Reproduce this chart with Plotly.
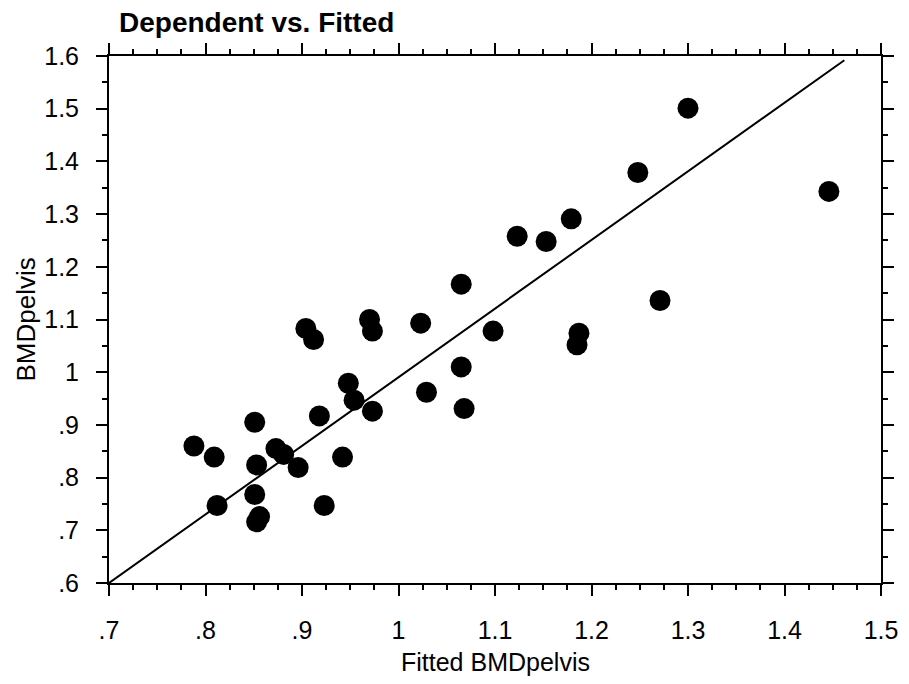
import plotly.graph_objects as go

# Fitted values (x) and observed dependent values (y)
fitted = [1.300, 1.248, 1.446, 1.179, 1.123, 1.153, 1.065, 1.023, 1.098, 1.271,
          1.187, 1.185, 1.065, 1.029, 1.068, 0.904, 0.912, 0.970, 0.973, 0.948,
          0.954, 0.973, 0.918, 0.851, 0.788, 0.809, 0.873, 0.881, 0.853, 0.896,
          0.942, 0.851, 0.812, 0.923, 0.856, 0.853]
dependent = [1.501, 1.379, 1.343, 1.291, 1.258, 1.248, 1.167, 1.093, 1.078, 1.136,
             1.074, 1.052, 1.010, 0.962, 0.931, 1.083, 1.062, 1.100, 1.078, 0.979,
             0.947, 0.926, 0.917, 0.905, 0.860, 0.839, 0.855, 0.844, 0.824, 0.819,
             0.839, 0.768, 0.747, 0.747, 0.726, 0.716]

# Reference line endpoints
line_x = [0.70, 1.462]
line_y = [0.60, 1.592]

x_tickvals = [0.7, 0.8, 0.9, 1.0, 1.1, 1.2, 1.3, 1.4, 1.5]
x_ticktext = [".7", ".8", ".9", "1", "1.1", "1.2", "1.3", "1.4", "1.5"]
y_tickvals = [0.6, 0.7, 0.8, 0.9, 1.0, 1.1, 1.2, 1.3, 1.4, 1.5, 1.6]
y_ticktext = [".6", ".7", ".8", ".9", "1", "1.1", "1.2", "1.3", "1.4", "1.5", "1.6"]

FONT = "Liberation Sans, Arial, sans-serif"

fig = go.Figure()
fig.add_trace(go.Scatter(x=line_x, y=line_y, mode="lines",
                         line=dict(color="black", width=2), hoverinfo="skip"))
fig.add_trace(go.Scatter(x=fitted, y=dependent, mode="markers",
                         marker=dict(color="black", size=21, line=dict(width=0))))

axis_common = dict(
    showline=True, linecolor="black", linewidth=2, mirror="ticks",
    ticks="outside", ticklen=11, tickwidth=2, tickcolor="black",
    showgrid=False, zeroline=False,
    tickfont=dict(family=FONT, size=25, color="black"),
)

fig.update_xaxes(range=[0.7, 1.5], tickmode="array", tickvals=x_tickvals,
                 ticktext=x_ticktext, ticklabelstandoff=13,
                 minor=dict(dtick=0.025, tick0=0.7, ticks="outside", ticklen=5,
                            tickwidth=2, tickcolor="black", showgrid=False),
                 **axis_common)
fig.update_yaxes(range=[0.6, 1.6], tickmode="array", tickvals=y_tickvals,
                 ticktext=y_ticktext, ticklabelstandoff=12,
                 minor=dict(dtick=0.05, tick0=0.6, ticks="outside", ticklen=5,
                            tickwidth=2, tickcolor="black", showgrid=False),
                 **axis_common)

fig.update_layout(
    width=909, height=684,
    margin=dict(l=109, r=28, t=56, b=101, pad=0),
    paper_bgcolor="white", plot_bgcolor="white",
    showlegend=False,
    font=dict(family=FONT, color="black"),
    annotations=[
        dict(text="<b>Dependent vs. Fitted</b>", xref="paper", yref="paper",
             x=0, y=1, xanchor="left", yanchor="middle", xshift=8, yshift=34,
             showarrow=False, font=dict(family=FONT, size=28, color="black")),
        dict(text="Fitted BMDpelvis", xref="paper", yref="paper",
             x=0.5, y=0, xanchor="center", yanchor="middle", yshift=-79,
             showarrow=False, font=dict(family=FONT, size=25, color="black")),
        dict(text="BMDpelvis", xref="paper", yref="paper", textangle=-90,
             x=0, y=0.5, xanchor="center", yanchor="middle", xshift=-84,
             showarrow=False, font=dict(family=FONT, size=26, color="black")),
    ],
)

fig.write_html("out.html")
